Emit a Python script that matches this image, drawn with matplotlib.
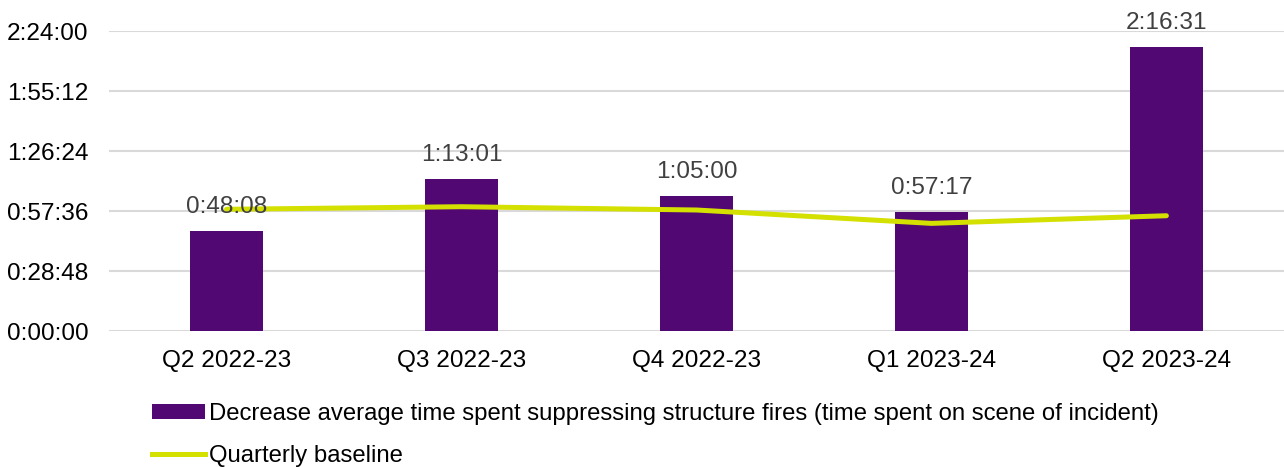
import matplotlib
matplotlib.use("Agg")
import matplotlib.pyplot as plt
from matplotlib.ticker import FuncFormatter, MultipleLocator
from matplotlib.patches import Patch
from matplotlib.lines import Line2D

plt.rcParams["font.family"] = ["Liberation Sans", "DejaVu Sans"]

# Data (seconds)
quarters = ["Q2 2022-23", "Q3 2022-23", "Q4 2022-23", "Q1 2023-24", "Q2 2023-24"]
suppress_time = [48 * 60 + 8, 73 * 60 + 1, 65 * 60, 57 * 60 + 17, 136 * 60 + 31]
baseline = [58 * 60 + 25, 59 * 60 + 40, 58 * 60 + 5, 51 * 60 + 40, 55 * 60 + 20]

bar_label = "Decrease average time spent suppressing structure fires (time spent on scene of incident)"
line_label = "Quarterly baseline"

BAR_COLOR = "#520872"
LINE_COLOR = "#d4e000"
FS = 17.6


def hms(sec, pos=None):
    sec = int(round(sec))
    return f"{sec // 3600}:{(sec % 3600) // 60:02d}:{sec % 60:02d}"


fig = plt.figure(figsize=(12.84, 4.67), dpi=100)
ax = fig.add_axes([0.0849, 0.2912, 0.915, 0.6424])

x = list(range(len(quarters)))
ax.bar(x, suppress_time, width=0.31, color=BAR_COLOR, zorder=2)
ax.plot(x, baseline, color=LINE_COLOR, linewidth=3.6, solid_capstyle="round", zorder=3)

for xi, v in zip(x, suppress_time):
    ax.annotate(hms(v), (xi, v), xytext=(0, 9), textcoords="offset points",
                ha="center", va="bottom", fontsize=FS, color="#404040", zorder=4)

ax.set_xlim(-0.5, 4.5)
ax.set_ylim(0, 8640)
ax.yaxis.set_major_locator(MultipleLocator(1728))
ax.yaxis.set_major_formatter(FuncFormatter(hms))
ax.set_xticks(x)
ax.set_xticklabels(quarters)
ax.tick_params(axis="both", length=0, labelsize=FS, colors="black")
ax.tick_params(axis="y", pad=15)
ax.tick_params(axis="x", pad=14)
ax.grid(axis="y", color="#d9d9d9", linewidth=1.5, zorder=0)
ax.set_axisbelow(True)
for s in ax.spines.values():
    s.set_visible(False)

handles = [Patch(facecolor=BAR_COLOR, label=bar_label),
           Line2D([0], [0], color=LINE_COLOR, linewidth=3.6, label=line_label)]
fig.legend(handles=handles, loc="upper left", bbox_to_anchor=(0.1184, 0.137),
           frameon=False, fontsize=17.2, handlelength=2.2, handleheight=0.6,
           handletextpad=0.2, labelspacing=0.85, borderaxespad=0, borderpad=0)

fig.savefig("out.png", dpi=100)
